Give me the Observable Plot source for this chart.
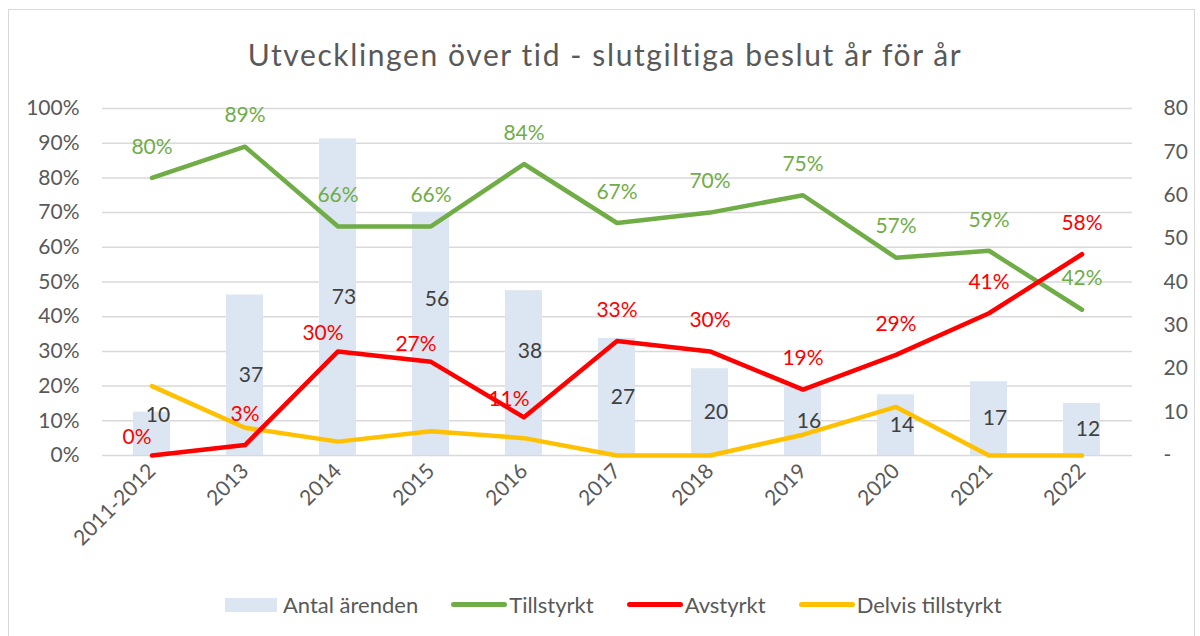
<!DOCTYPE html>
<html>
<head>
<meta charset="utf-8">
<script src="https://cdn.jsdelivr.net/npm/d3@7"></script>
<script src="https://cdn.jsdelivr.net/npm/@observablehq/plot@0.6"></script>
<style>
  html, body { margin: 0; padding: 0; background: #fff; }
  body { width: 1200px; height: 636px; position: relative; overflow: hidden; font-family: Lato, "Open Sans", sans-serif; }
  #frame { position: absolute; left: 8px; top: 9px; width: 1187px; height: 640px; border: 1.5px solid #d9d9d9; box-sizing: border-box; }
  #title { position: absolute; left: 0; width: 1210px; top: 36px; text-align: center; font-size: 30px; letter-spacing: 1.6px; color: #595959; white-space: nowrap; }
  #chart { position: absolute; left: 0; top: 80px; }
  #legend { position: absolute; top: 591px; left: 225px; display: flex; align-items: center; font-size: 22px; color: #595959; white-space: nowrap; }
  .item { display: flex; align-items: center; margin-right: 33px; }
  .sw-rect { width: 52px; height: 14px; background: #dce6f2; margin-right: 6px; }
  .sw-line { width: 56px; height: 5px; border-radius: 3px; margin-right: 2px; }
</style>
</head>
<body>
<div id="frame"></div>
<div id="title">Utvecklingen över tid - slutgiltiga beslut år för år</div>
<div id="chart"></div>
<div id="legend"></div>
<script>
// ---- Data ----
const categories = ["2011-2012", "2013", "2014", "2015", "2016", "2017", "2018", "2019", "2020", "2021", "2022"];
const antalArenden = [10, 37, 73, 56, 38, 27, 20, 16, 14, 17, 12];
const tillstyrkt = [80, 89, 66, 66, 84, 67, 70, 75, 57, 59, 42];
const avstyrkt = [0, 3, 30, 27, 11, 33, 30, 19, 29, 41, 58];
const delvisTillstyrkt = [20, 8, 4, 7, 5, 0, 0, 6, 14, 0, 0];
const leftTicks = [0, 10, 20, 30, 40, 50, 60, 70, 80, 90, 100];
const rightTicks = [0, 10, 20, 30, 40, 50, 60, 70, 80];
const rightMax = 80;
// label placement settings (as in the original chart)
const antalLabelAt = [9.2, 18.5, 36.5, 36, 24, 13.5, 10, 8, 7, 8.5, 6];
const avstyrktLabelPos = ["left", "above", "left", "left", "left", "above", "above", "above", "above", "above", "above"];
const seriesNames = ["Antal ärenden", "Tillstyrkt", "Avstyrkt", "Delvis tillstyrkt"];
const colors = { bar: "#dce6f2", till: "#70ad47", av: "#ff0000", delvis: "#ffc000", text: "#595959", grid: "#d9d9d9" };

// ---- Table ----
const toPct = v => v * 100 / rightMax;
const rows = categories.map((c, i) => ({
  cat: c,
  antal: antalArenden[i],
  till: tillstyrkt[i],
  av: avstyrkt[i],
  delvis: delvisTillstyrkt[i],
  antalAt: antalLabelAt[i],
  avPos: avstyrktLabelPos[i]
}));

const font = "Lato, 'Open Sans', sans-serif";
const fs = 21;

const chart = Plot.plot({
  width: 1200,
  height: 470,
  marginTop: 28,
  marginBottom: 95,
  marginLeft: 102,
  marginRight: 68,
  style: { fontFamily: font, fontSize: fs + "px", color: colors.text, background: "transparent", overflow: "visible" },
  x: { domain: categories, paddingInner: 0.6, paddingOuter: 0.3, label: null },
  y: { domain: [0, 100], label: null },
  marks: [
    Plot.ruleY(leftTicks, { stroke: colors.grid, strokeWidth: 1.5 }),
    Plot.barY(rows, { x: "cat", y: d => toPct(d.antal), fill: colors.bar }),
    Plot.lineY(rows, { x: "cat", y: "delvis", stroke: colors.delvis, strokeWidth: 4.5, strokeLinejoin: "round", strokeLinecap: "round" }),
    Plot.lineY(rows, { x: "cat", y: "till", stroke: colors.till, strokeWidth: 4.5, strokeLinejoin: "round", strokeLinecap: "round" }),
    Plot.lineY(rows, { x: "cat", y: "av", stroke: colors.av, strokeWidth: 4.5, strokeLinejoin: "round", strokeLinecap: "round" }),
    Plot.text(rows, { x: "cat", y: d => toPct(d.antalAt), text: d => String(d.antal), dx: 6, fill: "#404040", fontSize: fs }),
    Plot.text(rows, { x: "cat", y: "till", text: d => d.till + "%", dy: -31, fill: colors.till, fontSize: fs }),
    Plot.text(rows.filter(d => d.avPos === "above"), { x: "cat", y: "av", text: d => d.av + "%", dy: -31, fill: colors.av, fontSize: fs }),
    Plot.text(rows.filter(d => d.avPos === "left"), { x: "cat", y: "av", text: d => d.av + "%", dx: -15, dy: -18, fill: colors.av, fontSize: fs }),
    Plot.axisY({ anchor: "left", ticks: leftTicks, tickFormat: d => d + "%", tickSize: 0, tickPadding: 23, fontSize: fs, fill: colors.text, label: null }),
    Plot.axisY({ anchor: "right", ticks: rightTicks.map(toPct), tickFormat: d => d === 0 ? "-" : String(Math.round(d * rightMax / 100)), tickSize: 0, tickPadding: 31, textAnchor: "start", fontSize: fs, fill: colors.text, label: null }),
    Plot.axisX({ anchor: "bottom", tickRotate: -45, tickSize: 0, tickPadding: 12, fontSize: fs, fill: colors.text, label: null })
  ]
});
document.getElementById("chart").appendChild(chart);

// ---- Legend ----
const legend = document.getElementById("legend");
const swatches = [
  { cls: "sw-rect", color: colors.bar },
  { cls: "sw-line", color: colors.till },
  { cls: "sw-line", color: colors.av },
  { cls: "sw-line", color: colors.delvis }
];
seriesNames.forEach((name, i) => {
  const it = document.createElement("div");
  it.className = "item";
  const sw = document.createElement("span");
  sw.className = swatches[i].cls;
  sw.style.background = swatches[i].color;
  const t = document.createElement("span");
  t.textContent = name;
  it.appendChild(sw);
  it.appendChild(t);
  legend.appendChild(it);
});
</script>
</body>
</html>
